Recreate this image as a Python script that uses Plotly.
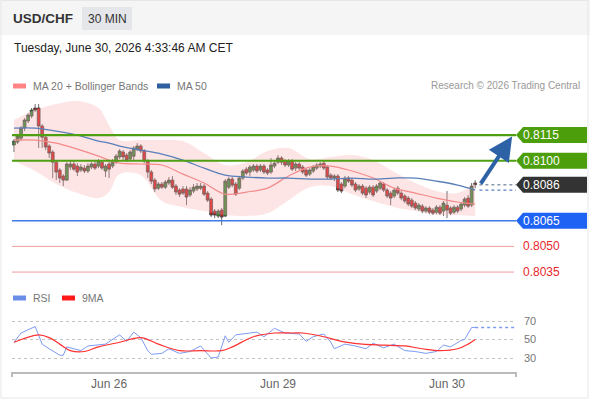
import plotly.graph_objects as go
import pandas as pd

pair = "USD/CHF"
timeframe = "30 MIN"
stamp = "Tuesday, June 30, 2026 4:33:46 AM CET"
credit = "Research © 2026 Trading Central"

# 30 min candles, Thu 10:30 -> Tue 04:00 (weekend removed)
times = pd.date_range("2026-06-25 10:30", "2026-06-30 04:00", freq="30min")
times = times[~((times >= "2026-06-26 23:00") & (times < "2026-06-28 23:00"))]

opens = [0.81092, 0.81109, 0.81132, 0.81191, 0.81232, 0.81261, 0.81308, 0.81308, 0.81203, 0.81138,
         0.81086, 0.81051, 0.80992, 0.80946, 0.80911, 0.80887, 0.80963, 0.80981, 0.80969, 0.80946,
         0.80957, 0.80940, 0.80963, 0.80981, 0.80969, 0.80992, 0.80940, 0.80981, 0.80969, 0.80992,
         0.81022, 0.81051, 0.81033, 0.81010, 0.81027, 0.81068, 0.81086, 0.81057, 0.80998, 0.80934,
         0.80887, 0.80840, 0.80864, 0.80846, 0.80870, 0.80887, 0.80852, 0.80829, 0.80835, 0.80835,
         0.80800, 0.80823, 0.80835, 0.80840, 0.80852, 0.80811, 0.80776, 0.80706, 0.80677, 0.80712,
         0.80677, 0.80846, 0.80893, 0.80864, 0.80840, 0.80899, 0.80951, 0.80934, 0.80946, 0.80969,
         0.80946, 0.80969, 0.80946, 0.80934, 0.80969, 0.80992, 0.81016, 0.80998, 0.80975, 0.80998,
         0.80957, 0.80981, 0.80963, 0.80946, 0.80922, 0.80940, 0.80957, 0.80969, 0.80986, 0.80963,
         0.80916, 0.80899, 0.80911, 0.80864, 0.80852, 0.80899, 0.80887, 0.80864, 0.80835, 0.80852,
         0.80840, 0.80817, 0.80846, 0.80823, 0.80840, 0.80864, 0.80829, 0.80811, 0.80794, 0.80840,
         0.80811, 0.80794, 0.80782, 0.80770, 0.80753, 0.80718, 0.80735, 0.80706, 0.80724, 0.80712,
         0.80700, 0.80729, 0.80706, 0.80741, 0.80724, 0.80700, 0.80729, 0.80718, 0.80741, 0.80782,
         0.80741, 0.80870]
highs = [0.81127, 0.81156, 0.81203, 0.81249, 0.81278, 0.81308, 0.81331, 0.81331, 0.81214, 0.81156,
         0.81097, 0.81062, 0.81004, 0.80957, 0.80922, 0.80992, 0.81004, 0.80998, 0.80986, 0.80981,
         0.80975, 0.80986, 0.80992, 0.80998, 0.81010, 0.81004, 0.80981, 0.80998, 0.81010, 0.81039,
         0.81068, 0.81062, 0.81045, 0.81062, 0.81086, 0.81103, 0.81097, 0.81068, 0.81010, 0.80946,
         0.80899, 0.80876, 0.80876, 0.80887, 0.80905, 0.80911, 0.80864, 0.80840, 0.80852, 0.80852,
         0.80846, 0.80864, 0.80870, 0.80870, 0.80864, 0.80823, 0.80788, 0.80718, 0.80718, 0.80724,
         0.80893, 0.80905, 0.80905, 0.80876, 0.80911, 0.80951, 0.80963, 0.80975, 0.80981, 0.80981,
         0.80981, 0.80981, 0.80957, 0.81016, 0.80998, 0.81033, 0.81027, 0.81010, 0.81010, 0.81010,
         0.80992, 0.80992, 0.80975, 0.80957, 0.80957, 0.80975, 0.80986, 0.80992, 0.80998, 0.80975,
         0.80928, 0.80922, 0.80922, 0.80876, 0.80911, 0.80911, 0.80899, 0.80876, 0.80864, 0.80864,
         0.80852, 0.80858, 0.80858, 0.80864, 0.80881, 0.80876, 0.80840, 0.80823, 0.80840, 0.80852,
         0.80823, 0.80805, 0.80794, 0.80782, 0.80765, 0.80753, 0.80747, 0.80735, 0.80735, 0.80724,
         0.80741, 0.80741, 0.80765, 0.80823, 0.80735, 0.80741, 0.80741, 0.80759, 0.80788, 0.80800,
         0.80870, 0.80887]
lows = [0.81051, 0.81097, 0.81115, 0.81173, 0.81220, 0.81249, 0.81284, 0.81074, 0.81074, 0.81062,
        0.81016, 0.80899, 0.80887, 0.80870, 0.80852, 0.80881, 0.80946, 0.80940, 0.80911, 0.80934,
        0.80928, 0.80928, 0.80951, 0.80946, 0.80957, 0.80946, 0.80905, 0.80899, 0.80957, 0.80981,
        0.81010, 0.81004, 0.80992, 0.80998, 0.81004, 0.81057, 0.81045, 0.80986, 0.80899, 0.80864,
        0.80817, 0.80829, 0.80835, 0.80835, 0.80858, 0.80835, 0.80800, 0.80788, 0.80800, 0.80741,
        0.80788, 0.80811, 0.80823, 0.80829, 0.80794, 0.80759, 0.80671, 0.80665, 0.80665, 0.80624,
        0.80671, 0.80835, 0.80846, 0.80794, 0.80829, 0.80887, 0.80916, 0.80911, 0.80934, 0.80928,
        0.80934, 0.80922, 0.80916, 0.80922, 0.80957, 0.80981, 0.80975, 0.80963, 0.80963, 0.80940,
        0.80940, 0.80946, 0.80922, 0.80905, 0.80911, 0.80928, 0.80946, 0.80957, 0.80946, 0.80893,
        0.80887, 0.80881, 0.80817, 0.80811, 0.80840, 0.80870, 0.80846, 0.80817, 0.80823, 0.80800,
        0.80782, 0.80805, 0.80788, 0.80811, 0.80829, 0.80817, 0.80782, 0.80741, 0.80782, 0.80800,
        0.80770, 0.80753, 0.80735, 0.80724, 0.80712, 0.80706, 0.80694, 0.80694, 0.80688, 0.80683,
        0.80688, 0.80683, 0.80677, 0.80665, 0.80683, 0.80688, 0.80694, 0.80706, 0.80729, 0.80724,
        0.80729, 0.80840]
closes = [0.81115, 0.81144, 0.81191, 0.81238, 0.81267, 0.81296, 0.81296, 0.81203, 0.81138, 0.81080,
          0.81045, 0.80992, 0.80934, 0.80899, 0.80887, 0.80981, 0.80981, 0.80951, 0.80934, 0.80963,
          0.80940, 0.80969, 0.80981, 0.80957, 0.80998, 0.80957, 0.80969, 0.80951, 0.80992, 0.81027,
          0.81057, 0.81022, 0.81004, 0.81051, 0.81074, 0.81086, 0.81057, 0.80998, 0.80934, 0.80881,
          0.80835, 0.80864, 0.80846, 0.80876, 0.80887, 0.80846, 0.80817, 0.80805, 0.80811, 0.80788,
          0.80829, 0.80846, 0.80852, 0.80852, 0.80805, 0.80770, 0.80683, 0.80683, 0.80706, 0.80671,
          0.80881, 0.80893, 0.80858, 0.80805, 0.80899, 0.80940, 0.80928, 0.80963, 0.80969, 0.80940,
          0.80969, 0.80934, 0.80928, 0.80975, 0.80986, 0.81016, 0.80992, 0.80975, 0.80998, 0.80951,
          0.80981, 0.80957, 0.80934, 0.80916, 0.80946, 0.80963, 0.80975, 0.80981, 0.80957, 0.80905,
          0.80899, 0.80911, 0.80829, 0.80823, 0.80899, 0.80881, 0.80858, 0.80829, 0.80852, 0.80811,
          0.80800, 0.80846, 0.80800, 0.80852, 0.80870, 0.80829, 0.80794, 0.80782, 0.80829, 0.80811,
          0.80782, 0.80765, 0.80747, 0.80735, 0.80724, 0.80741, 0.80706, 0.80724, 0.80700, 0.80694,
          0.80729, 0.80694, 0.80753, 0.80712, 0.80694, 0.80729, 0.80706, 0.80747, 0.80776, 0.80735,
          0.80852, 0.80860]

# indicators at these candle positions
band_idx = [0, 6, 12, 18, 24, 27, 30, 36, 42, 48, 54, 60, 66, 72, 78, 84, 90, 96, 102, 108, 114, 120, 126, 131]
ma20 = [0.81121, 0.81121, 0.81103, 0.81068, 0.81027, 0.81004, 0.80986, 0.80981, 0.80975, 0.80922, 0.80870, 0.80805,
        0.80817, 0.80840, 0.80911, 0.80963, 0.80969, 0.80940, 0.80899, 0.80840, 0.80811, 0.80782, 0.80759, 0.80747]
ma50 = [0.81191, 0.81191, 0.81173, 0.81150, 0.81115, 0.81103, 0.81086, 0.81062, 0.81039, 0.81004, 0.80957, 0.80916,
        0.80905, 0.80899, 0.80899, 0.80893, 0.80893, 0.80899, 0.80893, 0.80899, 0.80899, 0.80881, 0.80858, 0.80829]
bb_upper = [0.81238, 0.81296, 0.81331, 0.81349, 0.81308, 0.81208, 0.81121, 0.81121, 0.81121, 0.81115, 0.81045, 0.80975,
            0.80992, 0.81057, 0.81074, 0.81010, 0.81022, 0.81033, 0.81004, 0.80934, 0.80870, 0.80823, 0.80811, 0.80870]
bb_lower = [0.80998, 0.80940, 0.80864, 0.80811, 0.80782, 0.80817, 0.80922, 0.80916, 0.80765, 0.80729, 0.80706, 0.80683,
            0.80677, 0.80694, 0.80770, 0.80846, 0.80852, 0.80805, 0.80765, 0.80729, 0.80706, 0.80683, 0.80683, 0.80677]

rsi_idx = [0, 2, 6, 8, 10, 13, 14, 15, 19, 21, 26, 30, 32, 34, 36, 38, 39, 42, 44, 47, 50, 53, 56, 58, 60, 61, 63,
           67, 69, 71, 74, 77, 81, 83, 85, 88, 90, 91, 94, 97, 100, 102, 105, 108, 111, 114, 117, 120, 122, 124,
           127, 128, 130, 131]
rsi = [47, 57, 64, 45, 40, 33, 33, 42, 38, 43, 45, 55, 48, 58, 52, 38, 34, 35, 40, 35, 37, 43, 30, 31, 54, 47, 55,
       57, 58, 53, 62, 57, 56, 48, 53, 56, 47, 40, 45, 43, 40, 46, 41, 45, 38, 37, 35, 37, 44, 42, 49, 50, 63, 63]
rsi_ma_idx = [0, 7, 10, 13, 16, 20, 24, 30, 36, 41, 47, 53, 59, 62, 68, 74, 79, 82, 88, 93, 99, 105, 111, 116,
              121, 126, 129, 131]
rsi_ma = [47, 55, 52, 45, 38, 37, 42, 47, 52, 45, 38, 38, 38, 42, 53, 57, 57, 57, 53, 48, 45, 44, 43, 40, 38, 40, 45, 50]

resistances = [0.8115, 0.8100]
pivot = 0.8065
supports = [0.8050, 0.8035]
last_price = 0.8086

FONT = "Liberation Sans, Arial, sans-serif"
W, H = 590, 400


def px_x(p):
    return p / W


def px_y(p):
    return 1 - p / H


x = list(range(len(closes)))
x_end = 142.6

fig = go.Figure()

# Bollinger band
fig.add_trace(go.Scatter(x=band_idx, y=bb_upper, mode="lines", line=dict(width=0, shape="spline"),
                         hoverinfo="skip", xaxis="x", yaxis="y"))
fig.add_trace(go.Scatter(x=band_idx, y=bb_lower, mode="lines", line=dict(width=0, shape="spline"),
                         fill="tonexty", fillcolor="rgba(250,170,170,0.3)", hoverinfo="skip", xaxis="x", yaxis="y"))
fig.add_trace(go.Scatter(x=band_idx, y=ma20, mode="lines", line=dict(color="#f48a8a", width=1.2, shape="spline"),
                         xaxis="x", yaxis="y"))
fig.add_trace(go.Scatter(x=band_idx, y=ma50, mode="lines", line=dict(color="#5a7fb8", width=1.3, shape="spline"),
                         xaxis="x", yaxis="y"))

fig.add_trace(go.Candlestick(
    x=x, open=opens, high=highs, low=lows, close=closes,
    increasing=dict(line=dict(color="#444444", width=0.8), fillcolor="#2f8f2f"),
    decreasing=dict(line=dict(color="#444444", width=0.8), fillcolor="#e01b1b"),
    whiskerwidth=0, xaxis="x", yaxis="y"))

# RSI panel
fig.add_trace(go.Scatter(x=rsi_idx, y=rsi, mode="lines", line=dict(color="#7d9cf0", width=1),
                         xaxis="x2", yaxis="y2"))
fig.add_trace(go.Scatter(x=rsi_ma_idx, y=rsi_ma, mode="lines", line=dict(color="#ff3030", width=1.2, shape="spline"),
                         xaxis="x2", yaxis="y2"))

shapes = []
annotations = []

# frame + header band
shapes.append(dict(type="rect", xref="paper", yref="paper", x0=0, x1=1, y0=px_y(35), y1=1,
                   fillcolor="#f5f5f5", line=dict(width=0), layer="below"))
shapes.append(dict(type="rect", xref="paper", yref="paper", x0=px_x(1), x1=px_x(588), y0=px_y(398), y1=px_y(0.5),
                   line=dict(color="#e6e6e6", width=1), layer="below"))
shapes.append(dict(type="rect", xref="paper", yref="paper", x0=px_x(82), x1=px_x(132), y0=px_y(30), y1=px_y(7),
                   fillcolor="#e4e6e9", line=dict(width=0), layer="below"))

annotations.append(dict(text="<b>" + pair + "</b>", x=px_x(11), y=px_y(19), xref="paper", yref="paper",
                        xanchor="left", yanchor="middle", showarrow=False, font=dict(size=13.5, color="#333333")))
annotations.append(dict(text=timeframe, x=px_x(107), y=px_y(19), xref="paper", yref="paper",
                        xanchor="center", yanchor="middle", showarrow=False, font=dict(size=12, color="#333333")))
annotations.append(dict(text=stamp, x=px_x(12), y=px_y(48), xref="paper", yref="paper",
                        xanchor="left", yanchor="middle", showarrow=False, font=dict(size=12, color="#222222")))

# legends
def swatch(x0, yc, color):
    shapes.append(dict(type="rect", xref="paper", yref="paper", x0=px_x(x0), x1=px_x(x0 + 13),
                       y0=px_y(yc + 2.5), y1=px_y(yc - 2.5), fillcolor=color, line=dict(width=0)))


def legend_text(t, x0, yc):
    annotations.append(dict(text=t, x=px_x(x0), y=px_y(yc), xref="paper", yref="paper", xanchor="left",
                            yanchor="middle", showarrow=False, font=dict(size=10.5, color="#777777")))


swatch(13, 86, "#ff8585")
legend_text("MA 20 + Bollinger Bands", 31, 86)
swatch(157, 86, "#2f5f9f")
legend_text("MA 50", 175, 86)
annotations.append(dict(text=credit, x=px_x(582), y=px_y(86), xref="paper", yref="paper", xanchor="right",
                        yanchor="middle", showarrow=False, font=dict(size=10, color="#999999")))
swatch(13, 298, "#6a8de8")
legend_text("RSI", 31, 298)
swatch(62, 298, "#ff1a1a")
legend_text("9MA", 80, 298)

# key levels
half = 0.00047
tip, shoulder, right = px_x(516), px_x(523), px_x(587)


def level_label(level, bg):
    path = (f"M {tip},{level} L {shoulder},{level + half} L {right},{level + half} "
            f"L {right},{level - half} L {shoulder},{level - half} Z")
    shapes.append(dict(type="path", xref="paper", yref="y", path=path, fillcolor=bg, line=dict(width=0)))
    annotations.append(dict(text=f"{level:.4f}", x=px_x(521), y=level, xref="paper", yref="y", xanchor="left",
                            yanchor="middle", showarrow=False, font=dict(size=12, color="white")))


for lv in resistances:
    shapes.append(dict(type="line", xref="paper", yref="y", x0=px_x(12), x1=tip, y0=lv, y1=lv,
                       line=dict(color="#4e9f12", width=2.2)))
    level_label(lv, "#4c9e0b")

shapes.append(dict(type="line", xref="paper", yref="y", x0=px_x(12), x1=tip, y0=pivot, y1=pivot,
                   line=dict(color="#3f7be6", width=1.5)))
level_label(pivot, "#1f63f5")
level_label(last_price, "#333333")

for lv in supports:
    shapes.append(dict(type="line", xref="paper", yref="y", x0=px_x(12), x1=px_x(514), y0=lv, y1=lv,
                       line=dict(color="#f29a9a", width=1)))
    annotations.append(dict(text=f"{lv:.4f}", x=px_x(521), y=lv, xref="paper", yref="y", xanchor="left",
                            yanchor="middle", showarrow=False, font=dict(size=12, color="#e8262b")))

# dotted extensions of last values
n = len(closes) - 1
shapes.append(dict(type="line", xref="x", yref="y", x0=n + 1.2, x1=x_end, y0=last_price, y1=last_price,
                   line=dict(color="#8a97ad", width=1.3, dash="dot")))
shapes.append(dict(type="line", xref="x", yref="y", x0=n + 1.2, x1=x_end, y0=ma50[-1], y1=ma50[-1],
                   line=dict(color="#5a7fc8", width=1.3, dash="dot")))
shapes.append(dict(type="line", xref="x2", yref="y2", x0=n, x1=x_end, y0=rsi[-1], y1=rsi[-1],
                   line=dict(color="#7d9cf0", width=1.3, dash="dot")))

# axis end ticks
for xe in (12, 516):
    shapes.append(dict(type="line", xref="paper", yref="paper", x0=px_x(xe), x1=px_x(xe), y0=px_y(372),
                       y1=px_y(377), line=dict(color="#bbbbbb", width=2)))

# forecast arrow
annotations.append(dict(x=n + 10.5, y=resistances[0] - 0.00008, ax=n + 1.3, ay=last_price - 0.00002,
                        xref="x", yref="y", axref="x", ayref="y", text="", showarrow=True,
                        arrowhead=2, arrowsize=1.2, arrowwidth=4, arrowcolor="#2d62a6"))

tick_pos = [i for i, t in enumerate(times) if t.hour == 0 and t.minute == 0]
tick_txt = [times[i].strftime("%b %d") for i in tick_pos]

fig.update_layout(
    width=W, height=H,
    margin=dict(l=0, r=0, t=0, b=0),
    paper_bgcolor="white", plot_bgcolor="white",
    showlegend=False,
    boxgap=0.2, boxgroupgap=0,
    font=dict(family=FONT, color="#555555"),
    xaxis=dict(domain=[px_x(12), px_x(516)], range=[-0.57, x_end], anchor="y", visible=False,
               rangeslider=dict(visible=False), fixedrange=True),
    yaxis=dict(domain=[px_y(282), px_y(95)], range=[0.80292, 0.81384], anchor="x", visible=False),
    xaxis2=dict(domain=[px_x(12), px_x(516)], range=[-0.57, x_end], anchor="y2", matches="x",
                showline=True, linecolor="#bbbbbb", linewidth=2, showgrid=False, zeroline=False,
                tickvals=tick_pos, ticktext=tick_txt, ticks="", tickfont=dict(size=12, color="#666666")),
    yaxis2=dict(domain=[px_y(372), px_y(305)], range=[14.86, 87.3], anchor="x2", side="right",
                tickvals=[30, 50, 70], showgrid=True, griddash="dot", gridcolor="#c4c4c4", gridwidth=1,
                zeroline=False, ticks="", ticklabelstandoff=7, tickfont=dict(size=11, color="#777777")),
    shapes=shapes,
    annotations=annotations,
)

fig.write_html("out.html", config={"displayModeBar": False},
               post_script="document.body.style.margin='0px';")
